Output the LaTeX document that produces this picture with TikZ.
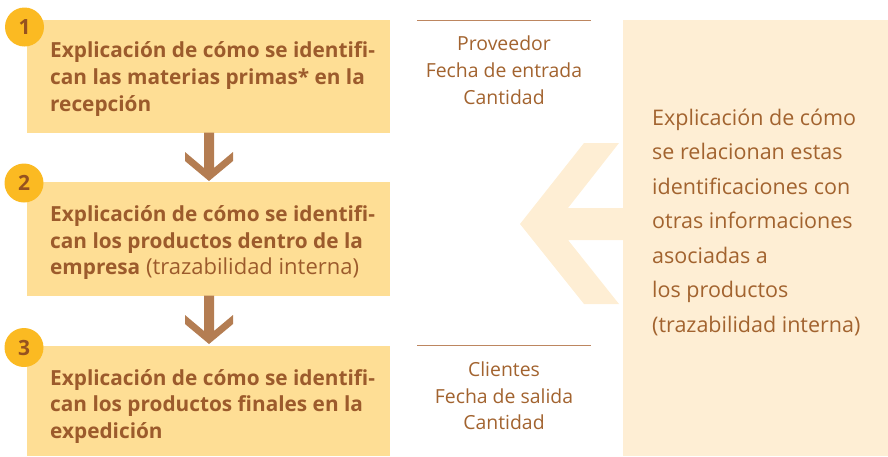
\documentclass[tikz,border=0pt]{standalone}
\usepackage{fontspec}
\setmainfont{Open Sans}
\usetikzlibrary{calc}
\definecolor{boxfill}{HTML}{FEDE95}
\definecolor{circfill}{HTML}{FBBA22}
\definecolor{numcol}{HTML}{96521F}
\definecolor{txtcol}{HTML}{9C5B2C}
\definecolor{arrcol}{HTML}{B47D52}
\definecolor{rfill}{HTML}{FEEED4}
\definecolor{linecol}{HTML}{BD8660}
\definecolor{rtxt}{HTML}{A2632F}
\begin{document}
\begin{tikzpicture}[x=1pt,y=-1pt,
  stepbox/.style={fill=boxfill,draw=none},
  numcirc/.style={circle,fill=circfill,minimum size=39pt,inner sep=0pt,text=numcol,font=\fontsize{21}{21}\selectfont\bfseries},
  bline/.style={anchor=base west,inner sep=0pt,text=txtcol,font=\fontsize{20.8}{20.8}\selectfont\bfseries},
  cline/.style={anchor=base,inner sep=0pt,text=rtxt,font=\fontsize{19.4}{19.4}\selectfont},
  rline/.style={anchor=base west,inner sep=0pt,text=rtxt,font=\fontsize{21.5}{21.5}\selectfont},
  sep/.style={draw=linecol,line width=1pt},
  downarr/.style={fill=arrcol,draw=none}]
\useasboundingbox (0,0) rectangle (888,456);
% right panel and big arrow
\fill[rfill] (623,20) rectangle (888,456);
\fill[rfill] (520,224) -- (584,143) -- (619,143) -- (568,208) -- (624,208) -- (624,240) -- (568,240) -- (619,304) -- (584,304) -- cycle;
% boxes
\node[stepbox,minimum width=363pt,minimum height=113.5pt,anchor=north west,inner sep=0pt] (b1) at (27,19.3) {};
\node[stepbox,minimum width=363pt,minimum height=114pt,anchor=north west,inner sep=0pt] (b2) at (27,182) {};
\node[stepbox,minimum width=363pt,minimum height=110pt,anchor=north west,inner sep=0pt] (b3) at (27,346) {};
% circles
\node[numcirc] (c1) at (24.5,27) {1};
\node[numcirc] (c2) at (24,183) {2};
\node[numcirc] (c3) at (24,347.5) {3};
% down arrows
\coordinate (a1) at (209,132.5);
\coordinate (a2) at (209,295.5);
\foreach \p in {a1,a2}{
  \fill[arrcol] ($(\p)+(-5,0)$) -- ($(\p)+(5,0)$) -- ($(\p)+(5,35.5)$) -- ($(\p)+(24,19.5)$) -- ($(\p)+(24,28.5)$) -- ($(\p)+(0,48.5)$) -- ($(\p)+(-24,28.5)$) -- ($(\p)+(-24,19.5)$) -- ($(\p)+(-5,35.5)$) -- cycle;
}
% box texts
\node[bline] (t1a) at (50,57.5) {Explicación de cómo se identifi-};
\node[bline] (t1b) at (50,84.5) {can las materias primas* en la};
\node[bline] (t1c) at (50,111.5) {recepción};
\node[bline] (t2a) at (50,221.5) {Explicación de cómo se identifi-};
\node[bline] (t2b) at (50,248) {can los productos dentro de la};
\node[bline] (t2c) at (50,274.5) {empresa\mdseries\fontsize{22}{22}\selectfont\ (trazabilidad interna)};
\node[bline] (t3a) at (50,385) {Explicación de cómo se identifi-};
\node[bline] (t3b) at (50,411.5) {can los productos finales en la};
\node[bline] (t3c) at (50,438) {expedición};
% center texts
\coordinate (l1a) at (417,20); \coordinate (l1b) at (591,20);
\draw[sep] (l1a) -- (l1b);
\node[cline] (p1) at (504,50) {Proveedor};
\node[cline] (p2) at (504,77) {Fecha de entrada};
\node[cline] (p3) at (504,104) {Cantidad};
\coordinate (l2a) at (417,345); \coordinate (l2b) at (591,345);
\draw[sep] (l2a) -- (l2b);
\node[cline] (q1) at (504,376.5) {Clientes};
\node[cline] (q2) at (504,403) {Fecha de salida};
\node[cline] (q3) at (504,429.5) {Cantidad};
% right texts
\node[rline] (r1) at (652,125) {Explicación de cómo};
\node[rline] (r2) at (652,159.5) {se relacionan estas};
\node[rline] (r3) at (652,194) {identificaciones con};
\node[rline] (r4) at (652,228.5) {otras informaciones};
\node[rline] (r5) at (652,263) {asociadas a};
\node[rline] (r6) at (652,297.5) {los productos};
\node[rline] (r7) at (652,332) {(trazabilidad interna)};
\end{tikzpicture}
\end{document}
